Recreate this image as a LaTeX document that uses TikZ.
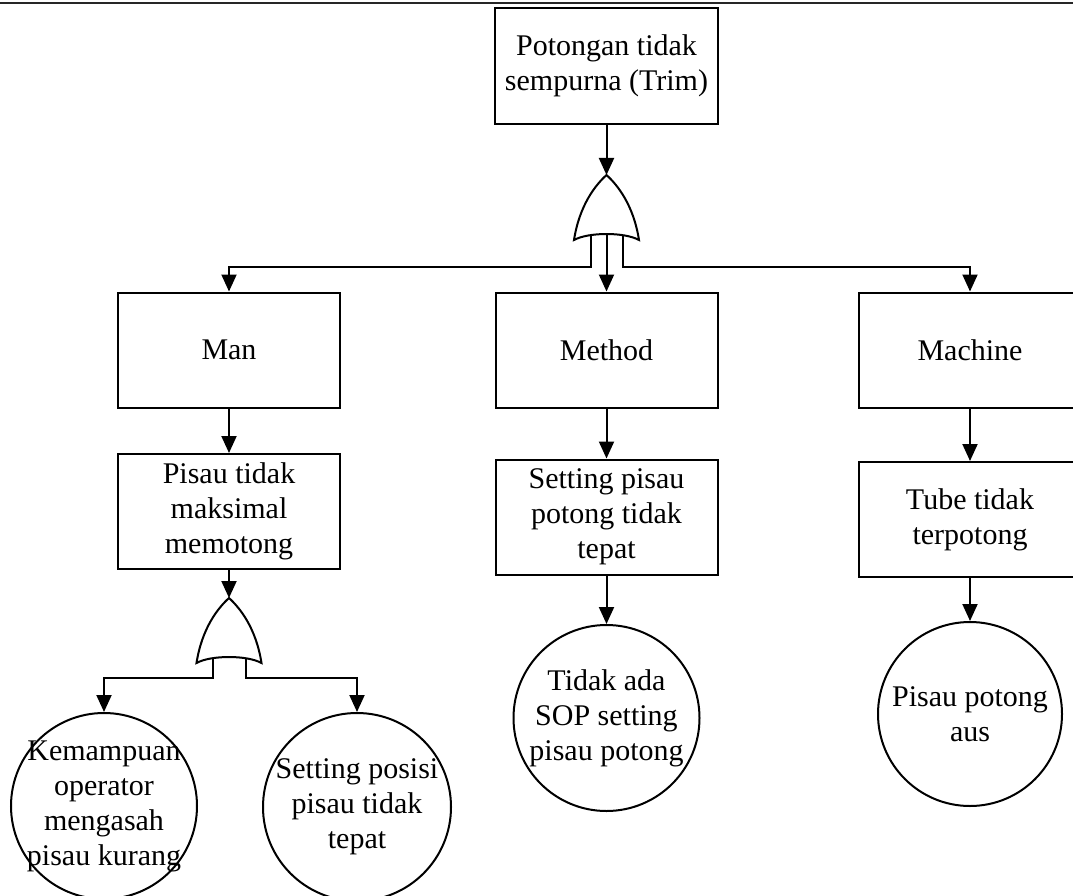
\documentclass[tikz,border=0pt]{standalone}
\usepackage{fontspec}
\setmainfont{Liberation Serif}
\usetikzlibrary{arrows.meta}
\newcommand\dfont{\fontsize{30}{35}\selectfont}
\tikzset{
  ln/.style={line width=2pt},
  arr/.style={ln, -{Triangle[width=15pt,length=17pt]}},
  box/.style={draw, ln, rectangle, minimum width=222pt, minimum height=115pt, inner sep=0pt, align=center, font=\dfont},
  circ/.style={draw, ln, circle, minimum size=186pt, inner sep=-70pt, align=center, font=\dfont},
  gate/.style={draw, ln, fill=white, line join=miter},
  orgate/.pic={
    \draw[gate] (-32.5,65) .. controls (-27,30) and (-11,10) .. (0,0)
      .. controls (11,10) and (27,30) .. (32.5,65)
      .. controls (18,57) and (-18,57) .. (-32.5,65) -- cycle;
    \coordinate (-top) at (0,0);
    \coordinate (-mid) at (0,59);
    \coordinate (-l) at (-16,60);
    \coordinate (-r) at (16.5,60);
  }
}
\begin{document}
\begin{tikzpicture}[x=1pt,y=-1pt]
\useasboundingbox (0,0) rectangle (1073,896);
\clip (0,0) rectangle (1073,896);
\draw[line width=1.6pt, black!85] (0,3) -- (1073,3);

\node[box, minimum width=223pt, minimum height=116pt] (top) at (606.5,66) {Potongan tidak\\sempurna (Trim)};
\pic (g1) at (606.5,175) {orgate};

\node[box] (man) at (229,350) {Man};
\node[box] (method) at (606.5,350) {Method};
\node[box] (machine) at (970,350) {Machine};

\node[box] (pisau) at (229,511.5) {Pisau tidak\\maksimal\\memotong};
\node[box] (setting) at (606.5,517) {Setting pisau\\potong tidak\\tepat};
\node[box] (tube) at (970,519.5) {Tube tidak\\terpotong};

\pic (g2) at (229,598) {orgate};

\node[circ] (c1) at (104,806) {Kemampuan\\operator\\mengasah\\pisau kurang};
\node[circ, minimum size=188pt] (c2) at (357,807) {Setting posisi\\pisau tidak\\tepat};
\node[circ] (c3) at (606.5,718) {Tidak ada\\SOP setting\\pisau potong};
\node[circ, minimum size=184pt] (c4) at (970,714) {Pisau potong\\aus};

\draw[arr] (top) -- (g1-top);
\draw[arr] (g1-mid) -- (method);
\draw[arr] (g1-l) -- ++(0,32) -| (man);
\draw[arr] (g1-r) -- ++(0,32) -| (machine);

\draw[arr] (man) -- (pisau);
\draw[arr] (pisau) -- (g2-top);
\draw[arr] (g2-l) -- ++(0,20) -| (c1);
\draw[arr] (g2-r) -- ++(0,20) -| (c2);

\draw[arr] (method) -- (setting);
\draw[arr] (setting) -- (c3);

\draw[arr] (machine) -- (tube);
\draw[arr] (tube) -- (c4);
\end{tikzpicture}
\end{document}
